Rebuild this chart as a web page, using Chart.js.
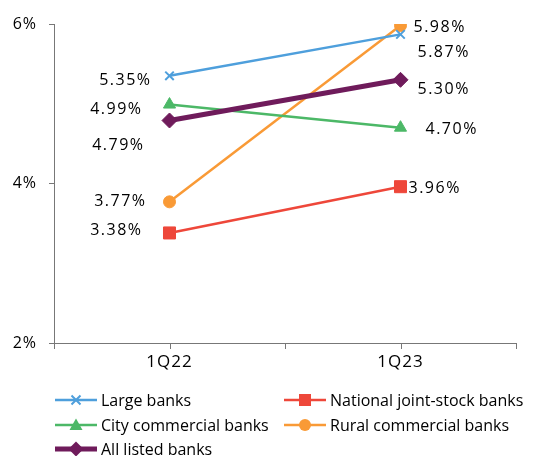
<!DOCTYPE html>
<html>
<head>
<meta charset="utf-8">
<script src="https://cdn.jsdelivr.net/npm/chart.js@4/dist/chart.umd.min.js"></script>
<style>
  html, body { margin: 0; padding: 0; background: #fff; }
  #wrap { width: 536px; height: 456px; }
</style>
</head>
<body>
<div id="wrap"><canvas id="myChart" width="536" height="456"></canvas></div>
<script>
// data
const quarters = ['1Q22', '1Q23']
const largeBanks = [5.35, 5.87]
const jointStockBanks = [3.38, 3.96]
const cityBanks = [4.99, 4.70]
const ruralBanks = [3.77, 5.98]
const allListed = [4.79, 5.30]
const yTicks = [2, 4, 6]

const FONT = '"Open Sans", "Noto Sans", sans-serif'

// where each value label sits relative to its marker [dx, dy] per point
const labelOffsets = {
    'Large banks': [[-18, 5], [17, 18]],
    'National joint-stock banks': [[-27, -3], [8, 2]],
    'City commercial banks': [[-27, 5], [25, 2]],
    'Rural commercial banks': [[-23, 0], [13, 2]],
    'All listed banks': [[-25, 25], [17, 10]]
}

function makeSet(label, data, color, style, radius, width, order) {
    return {
        label: label,
        data: data,
        borderColor: color,
        backgroundColor: color,
        pointStyle: style,
        pointRadius: radius,
        pointBorderWidth: style == 'crossRot' ? 2 : 1,
        pointBorderColor: color,
        pointBackgroundColor: color,
        borderWidth: width,
        tension: 0,
        order: order
    }
}

const datasets = [
    makeSet('Large banks', largeBanks, '#4e9fdc', 'crossRot', 6, 2.5, 1),
    makeSet('National joint-stock banks', jointStockBanks, '#ee473a', 'rect', 8.5, 2.5, 1),
    makeSet('City commercial banks', cityBanks, '#4cb867', 'triangle', 7, 2.5, 1),
    makeSet('Rural commercial banks', ruralBanks, '#f99a36', 'circle', 6, 2.5, 1),
    makeSet('All listed banks', allListed, '#6f1b5b', 'rectRot', 7.5, 5, 0)
]

// the source font has wide digits, so numbers get a little spacing
const wideDigits = {
    id: 'wideDigits',
    beforeDraw(chart) {
        chart.ctx.letterSpacing = '1px'
    }
}

// value labels next to the markers
const valueLabels = {
    id: 'valueLabels',
    afterDatasetsDraw(chart) {
        const ctx = chart.ctx
        ctx.save()
        ctx.font = '16px ' + FONT
        ctx.letterSpacing = '1.5px'
        ctx.fillStyle = '#000'
        ctx.textBaseline = 'middle'
        chart.data.datasets.forEach((ds, i) => {
            const meta = chart.getDatasetMeta(i)
            meta.data.forEach((pt, j) => {
                const off = labelOffsets[ds.label][j]
                ctx.textAlign = j == 0 ? 'right' : 'left'
                ctx.fillText(ds.data[j].toFixed(2) + '%', pt.x + off[0], pt.y + off[1])
            })
        })
        ctx.restore()
    }
}

// extra tick marks under the category centres
const centreTicks = {
    id: 'centreTicks',
    afterDraw(chart) {
        const ctx = chart.ctx
        const x = chart.scales.x
        ctx.save()
        ctx.strokeStyle = '#777'
        ctx.lineWidth = 1
        for (let i = 0; i < quarters.length; i++) {
            const px = Math.round(x.getPixelForValue(i)) + 0.5
            ctx.beginPath()
            ctx.moveTo(px, x.top)
            ctx.lineTo(px, x.top + 6)
            ctx.stroke()
        }
        ctx.restore()
    }
}

function drawMarker(ctx, style, x, y, color) {
    ctx.save()
    ctx.fillStyle = color
    ctx.strokeStyle = color
    ctx.lineWidth = 2
    ctx.beginPath()
    if (style == 'crossRot') {
        ctx.moveTo(x - 4.5, y - 4.5); ctx.lineTo(x + 4.5, y + 4.5)
        ctx.moveTo(x - 4.5, y + 4.5); ctx.lineTo(x + 4.5, y - 4.5)
        ctx.stroke()
    } else if (style == 'rect') {
        ctx.rect(x - 6, y - 6, 12, 12); ctx.fill()
    } else if (style == 'triangle') {
        ctx.moveTo(x, y - 6.5); ctx.lineTo(x + 6.5, y + 5); ctx.lineTo(x - 6.5, y + 5); ctx.closePath(); ctx.fill()
    } else if (style == 'circle') {
        ctx.arc(x, y, 6, 0, Math.PI * 2); ctx.fill()
    } else {
        ctx.moveTo(x, y - 7.5); ctx.lineTo(x + 7.5, y); ctx.lineTo(x, y + 7.5); ctx.lineTo(x - 7.5, y); ctx.closePath(); ctx.fill()
    }
    ctx.restore()
}

// two column legend under the axis
const gridLegend = {
    id: 'gridLegend',
    afterDraw(chart) {
        const ctx = chart.ctx
        const slots = [[55, 400], [284, 400], [55, 425], [284, 425], [55, 449]]
        ctx.save()
        ctx.letterSpacing = '0px'
        ctx.font = '16px ' + FONT
        ctx.textBaseline = 'middle'
        ctx.textAlign = 'left'
        chart.data.datasets.forEach((ds, i) => {
            const s = slots[i]
            ctx.strokeStyle = ds.borderColor
            ctx.lineWidth = ds.borderWidth
            ctx.beginPath()
            ctx.moveTo(s[0], s[1])
            ctx.lineTo(s[0] + 42, s[1])
            ctx.stroke()
            drawMarker(ctx, ds.pointStyle, s[0] + 21, s[1], ds.borderColor)
            ctx.fillStyle = '#000'
            ctx.fillText(ds.label, s[0] + 46, s[1] + 1)
        })
        ctx.restore()
    }
}

var chart = new Chart('myChart', {
    type: 'line',
    data: {
        labels: quarters,
        datasets: datasets
    },
    options: {
        responsive: false,
        animation: false,
        layout: { padding: { top: 24, right: 20, bottom: 83, left: 0 } },
        plugins: {
            legend: { display: false },
            tooltip: { enabled: false }
        },
        scales: {
            x: {
                offset: true,
                grid: { offset: true, drawOnChartArea: false, drawTicks: true, tickLength: 6, color: '#777' },
                border: { color: '#777', width: 1 },
                ticks: { color: '#000', font: { family: FONT, size: 17 }, padding: 3 },
                afterFit: (s) => { s.height = 30 }
            },
            y: {
                min: yTicks[0],
                max: yTicks[yTicks.length - 1],
                grid: { drawOnChartArea: false, drawTicks: true, tickLength: 5, color: '#777' },
                border: { color: '#777', width: 1 },
                ticks: {
                    stepSize: 2,
                    color: '#000',
                    font: { family: FONT, size: 16 },
                    padding: 12,
                    callback: (v) => yTicks.includes(v) ? v + '%' : ''
                },
                afterFit: (s) => { s.width = 54 }
            }
        }
    },
    plugins: [wideDigits, valueLabels, centreTicks, gridLegend]
})
</script>
</body>
</html>
